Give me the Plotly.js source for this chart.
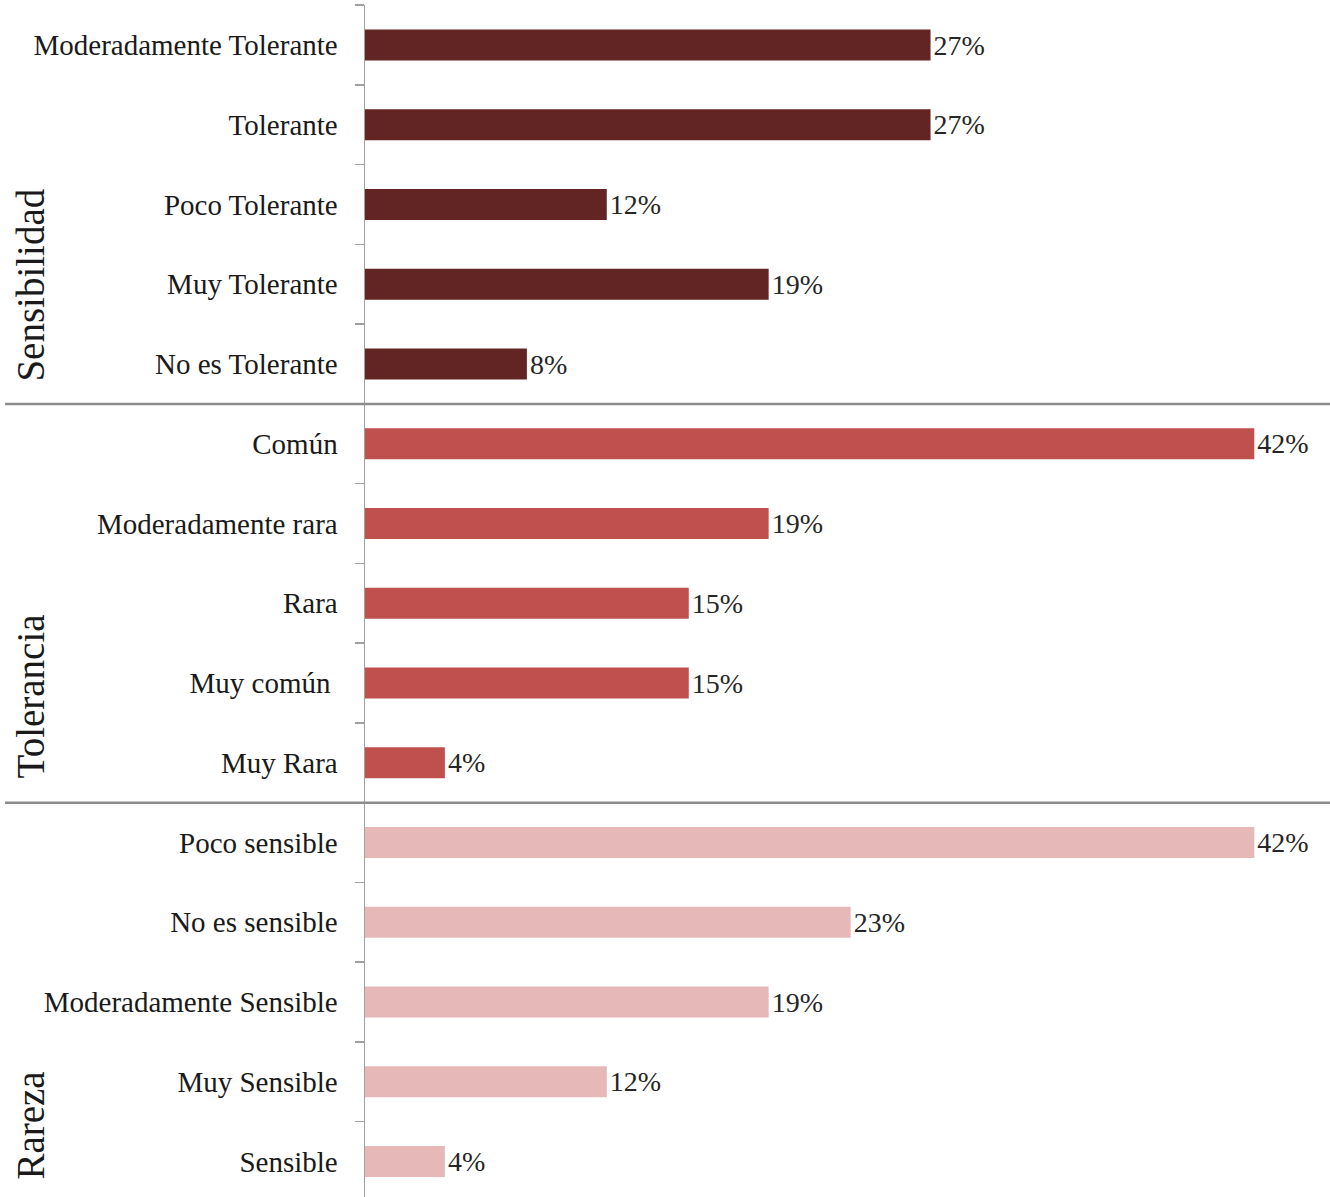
<!DOCTYPE html>
<html>
<head>
<meta charset="utf-8">
<script src="https://cdn.plot.ly/plotly-3.0.1.min.js"></script>
<style>html,body{margin:0;padding:0;background:#fff;}#chart{width:1330px;height:1197px;}</style>
</head>
<body>
<div id="chart"></div>
<script>
// Group titles
const groupNames = ["Sensibilidad", "Tolerancia", "Rareza"];

// Categories per group (top to bottom)
const catsSensibilidad = ["Moderadamente Tolerante", "Tolerante", "Poco Tolerante", "Muy Tolerante", "No es Tolerante"];
const catsTolerancia = ["Común", "Moderadamente rara", "Rara", "Muy común\u00a0", "Muy Rara"];
const catsRareza = ["Poco sensible", "No es sensible", "Moderadamente Sensible", "Muy Sensible", "Sensible"];

// Values (%)
const valsSensibilidad = [26.9, 26.9, 11.5, 19.2, 7.7];
const valsTolerancia = [42.3, 19.2, 15.4, 15.4, 3.8];
const valsRareza = [42.3, 23.1, 19.2, 11.5, 3.8];

// Colors
const groupColors = ["#632523", "#c0504d", "#e6b9b8"];

const FONT = "'Liberation Serif', 'DejaVu Serif', serif";
const allCats = catsSensibilidad.concat(catsTolerancia, catsRareza);

function mk(cats, vals, color) {
  return {
    type: "bar", orientation: "h",
    y: cats, x: vals,
    width: 0.39,
    marker: {color: color, line: {width: 0}},
    texttemplate: "%{x:.0f}%",
    textposition: "outside",
    cliponaxis: false,
    textfont: {family: FONT, size: 28, color: "#262626"},
    hoverinfo: "skip",
    showlegend: false
  };
}

const data = [
  mk(catsSensibilidad, valsSensibilidad, groupColors[0]),
  mk(catsTolerancia, valsTolerancia, groupColors[1]),
  mk(catsRareza, valsRareza, groupColors[2])
];

const titleFont = {family: FONT, size: 39, color: "#1a1a1a"};

const layout = {
  width: 1330, height: 1197,
  margin: {l: 365, r: 0, t: 5, b: 0, pad: 0},
  paper_bgcolor: "#fff", plot_bgcolor: "#fff",
  barmode: "overlay",
  font: {family: FONT, color: "#1a1a1a"},
  xaxis: {range: [0, 45.9], visible: false, showgrid: false, zeroline: false},
  yaxis: {
    type: "category", categoryorder: "array", categoryarray: allCats,
    range: [14.445, -0.502],
    showgrid: false, zeroline: false,
    showline: true, linecolor: "#a0a0a0", linewidth: 1.5,
    ticks: "outside", tickson: "boundaries", ticklen: 9, tickcolor: "#a0a0a0", tickwidth: 1.5,
    ticklabelstandoff: 20,
    tickfont: {family: FONT, size: 29, color: "#1a1a1a"}
  },
  shapes: [
    {type: "line", xref: "paper", yref: "y", x0: -0.373, x1: 1, y0: 4.5, y1: 4.5, line: {color: "#8c8c8c", width: 2.5}},
    {type: "line", xref: "paper", yref: "y", x0: -0.373, x1: 1, y0: 9.5, y1: 9.5, line: {color: "#8c8c8c", width: 2.5}}
  ],
  annotations: [
    {text: groupNames[0], xref: "paper", yref: "y", x: -0.347, y: 4.25, xanchor: "center", yanchor: "bottom", textangle: -90, showarrow: false, font: titleFont},
    {text: groupNames[1], xref: "paper", yref: "y", x: -0.347, y: 9.22, xanchor: "center", yanchor: "bottom", textangle: -90, showarrow: false, font: titleFont},
    {text: groupNames[2], xref: "paper", yref: "y", x: -0.347, y: 14.25, xanchor: "center", yanchor: "bottom", textangle: -90, showarrow: false, font: titleFont}
  ]
};

Plotly.newPlot("chart", data, layout, {displayModeBar: false, staticPlot: true});
</script>
</body>
</html>
